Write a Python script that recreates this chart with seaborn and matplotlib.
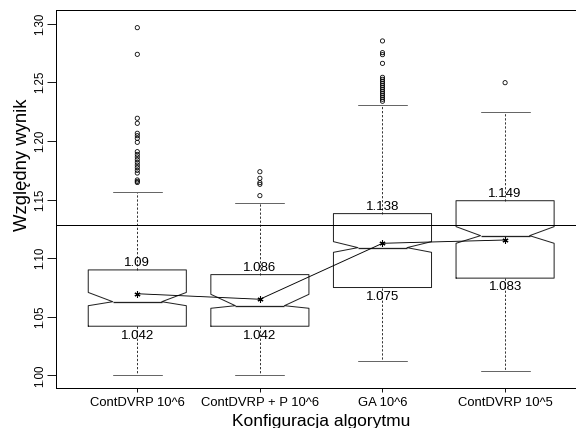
import matplotlib
matplotlib.use("Agg")
import matplotlib.pyplot as plt
import pandas as pd
import seaborn as sns

# Algorithm configurations shown on the x axis
configs = ["ContDVRP 10^6", "ContDVRP + P 10^6", "GA 10^6", "ContDVRP 10^5"]

# Box statistics per configuration (relative score)
q1 = [1.042, 1.042, 1.075, 1.083]
q3 = [1.09, 1.086, 1.138, 1.149]
medians = [1.0629, 1.0595, 1.1090, 1.1192]
notch_lo = [1.0595, 1.0573, 1.1050, 1.1127]
notch_hi = [1.0708, 1.0692, 1.1141, 1.1269]
whisker_lo = [1.000, 1.000, 1.012, 1.004]
whisker_hi = [1.1564, 1.1468, 1.2309, 1.2249]
means = [1.0697, 1.0650, 1.1127, 1.1155]

# Outlying runs above the upper whisker
outliers_contdvrp_1e6 = [1.2965, 1.2738, 1.2193, 1.2150, 1.2065, 1.2044, 1.2022,
                         1.1988, 1.1908, 1.1885, 1.1863, 1.1840, 1.1817, 1.1794,
                         1.1772, 1.1749, 1.1726, 1.1667, 1.1655, 1.1645]
outliers_contdvrp_p_1e6 = [1.1737, 1.1681, 1.1644, 1.1630, 1.1533]
outliers_ga_1e6 = [1.2852, 1.2752, 1.2735, 1.2661, 1.2542, 1.2525, 1.2508,
                   1.2491, 1.2474, 1.2457, 1.2440, 1.2423, 1.2406, 1.2389,
                   1.2372, 1.2355, 1.2338]
outliers_contdvrp_1e5 = [1.2496]

reference_level = 1.128
y_ticks = [1.00, 1.05, 1.10, 1.15, 1.20, 1.25, 1.30]

sns.set_theme(style="ticks")
plt.rcParams["font.family"] = ["Liberation Sans", "DejaVu Sans"]

W, H = 576, 428
fig = plt.figure(figsize=(W / 72, H / 72), dpi=72)
ax = fig.add_axes([56 / W, 40 / H, 530 / W, 378.5 / H])

# Outliers as open circles
outlier_groups = [outliers_contdvrp_1e6, outliers_contdvrp_p_1e6,
                  outliers_ga_1e6, outliers_contdvrp_1e5]
flier_df = pd.DataFrame({
    "config": [c for c, vals in zip(configs, outlier_groups) for _ in vals],
    "value": [v for vals in outlier_groups for v in vals],
})
sns.stripplot(data=flier_df, x="config", y="value", order=configs, jitter=False,
              marker="o", color="black", facecolor="none", edgecolor="black",
              linewidth=0.8, size=4.2, ax=ax, zorder=3)

# Notched boxes built from the summary statistics
stats = [
    dict(med=m, q1=a, q3=b, cilo=lo, cihi=hi, whislo=wl, whishi=wh,
         fliers=[], mean=mn, label=c)
    for c, m, a, b, lo, hi, wl, wh, mn in zip(configs, medians, q1, q3, notch_lo,
                                              notch_hi, whisker_lo, whisker_hi, means)
]
ax.bxp(stats, positions=range(len(configs)), widths=0.8, shownotches=True,
       showfliers=False, showmeans=False, manage_ticks=False,
       boxprops=dict(color="#222222", linewidth=1.0),
       medianprops=dict(color="#222222", linewidth=1.3),
       whiskerprops=dict(color="#222222", linewidth=0.9, linestyle=(0, (2.5, 2))),
       capprops=dict(color="#666666", linewidth=1.0))

# Means joined by a line, drawn as asterisks
mean_df = pd.DataFrame({"config": configs, "mean": means})
sns.pointplot(data=mean_df, x="config", y="mean", order=configs, color="black",
              markers=(6, 2, 0), errorbar=None, linewidth=0.9, markersize=6,
              markeredgewidth=1.1, ax=ax, zorder=4)

ax.axhline(reference_level, color="black", linewidth=1.0, zorder=2)

# Quartile labels above and below each box
for i in range(len(configs)):
    ax.annotate(f"{q3[i]:g}", (i, q3[i]), xytext=(0, 4), textcoords="offset points",
                ha="center", va="baseline", fontsize=13.3, color="black")
    ax.annotate(f"{q1[i]:g}", (i, q1[i]), xytext=(0, -3.3), textcoords="offset points",
                ha="center", va="top", fontsize=13.3, color="black")

ax.set_xlim(-0.663, 3.66)
ax.set_ylim(0.98934, 1.3120)

ax.set_xticks(range(len(configs)))
ax.set_xticklabels(configs, fontsize=13)
ax.set_yticks(y_ticks)
ax.set_yticklabels([f"{t:.2f}" for t in y_ticks], fontsize=11.5)
ax.tick_params(axis="x", length=4, width=0.9, pad=5.3, color="black", labelcolor="black")
ax.tick_params(axis="y", length=9.3, width=0.9, pad=3.4, color="black", labelcolor="black")
for lab in ax.get_yticklabels():
    lab.set_rotation(90)
    lab.set_rotation_mode("anchor")
    lab.set_ha("center")
    lab.set_va("baseline")

for side in ["left", "right", "top", "bottom"]:
    ax.spines[side].set_color("black")
    ax.spines[side].set_linewidth(1.0)

ax.set_xlabel("Konfiguracja algorytmu", fontsize=17.4, color="black")
ax.xaxis.label.set_va("baseline")
ax.xaxis.set_label_coords(0.5, (388 - 425.8) / 378.5)

ax.set_ylabel("Względny wynik", fontsize=18.5, color="black")
ax.yaxis.label.set_rotation_mode("anchor")
ax.yaxis.label.set_ha("center")
ax.yaxis.label.set_va("baseline")
ax.yaxis.set_label_coords((27.5 - 56) / 530, (388 - 165) / 378.5)

fig.savefig("out.png", dpi=72)
